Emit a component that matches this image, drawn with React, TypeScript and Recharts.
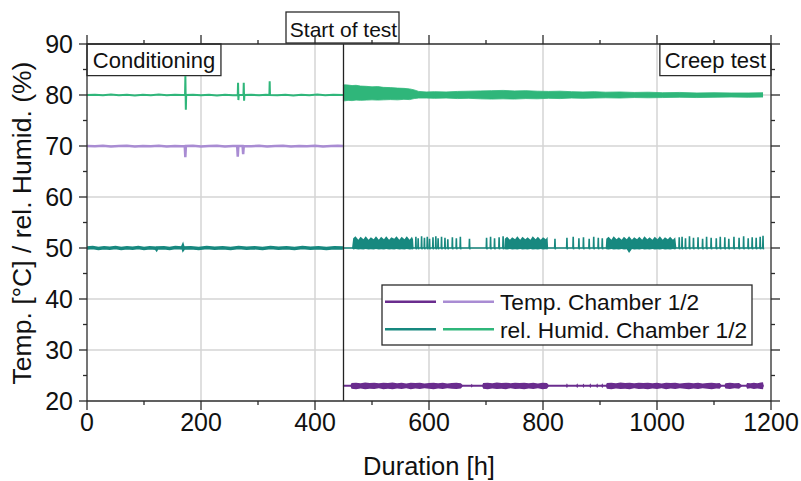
import React from 'react';
import {
  ComposedChart,
  Line,
  Area,
  XAxis,
  YAxis,
  CartesianGrid,
  ReferenceLine,
  ReferenceArea,
  Legend,
  Label,
} from 'recharts';

const FONT = '"Liberation Sans", Arial, Helvetica, sans-serif';
const AXIS = '#2b2b2b';

const TEMP1 = '#6a2c8e';
const TEMP2 = '#a98cd3';
const RH1 = '#17887f';
const RH2 = '#2fb67a';

const xTicks = [0, 100, 200, 300, 400, 500, 600, 700, 800, 900, 1000, 1100, 1200];
const yTicks = [20, 25, 30, 35, 40, 45, 50, 55, 60, 65, 70, 75, 80, 85, 90];
const xGrid = [200, 400, 600, 800, 1000];
const yGrid = [30, 40, 50, 60, 70, 80];

const legendNames = ['Temp. Chamber 1/2', 'rel. Humid. Chamber 1/2'];
const legendColors = [
  [TEMP1, TEMP2],
  [RH1, RH2],
];

// [hours, value]
const temp2Cond: [number, number][] = [
  [0, 70], [14, 69.95], [28, 70.05], [42, 69.9], [56, 70], [70, 70.05], [84, 69.9], [98, 70],
  [112, 69.95], [126, 70.05], [140, 69.9], [154, 70], [166, 69.95], [171.5, 70], [172.5, 67.8],
  [173.5, 70], [186, 70.05], [200, 69.9], [214, 70], [228, 70.05], [242, 69.9], [256, 70],
  [263.5, 70], [264.5, 67.9], [265.5, 70], [273, 70], [274, 68.4], [275, 70], [288, 69.95],
  [302, 70.05], [316, 69.9], [330, 70], [344, 70.05], [358, 69.9], [372, 70], [386, 69.95],
  [400, 70.05], [414, 69.9], [428, 70], [440, 70.05], [449, 70],
];

const rh2Line: [number, number][] = [
  [0, 80], [14, 80.05], [28, 79.95], [42, 80.1], [56, 79.95], [70, 80.05], [84, 79.9], [98, 80.05],
  [112, 79.95], [126, 80.1], [140, 79.95], [154, 80.05], [166, 80], [172, 80], [172.6, 83.7],
  [173.4, 77.1], [174, 80], [186, 80.05], [200, 79.95], [214, 80.05], [228, 79.9], [242, 80.05],
  [256, 79.95], [264.5, 80], [265, 82.4], [265.6, 79], [266.2, 80], [274.5, 80], [275, 82.4],
  [275.6, 78.9], [276.2, 80], [288, 80.05], [302, 79.95], [314, 80.05], [320, 80], [320.5, 82.7],
  [321, 80], [334, 79.95], [348, 80.05], [362, 79.9], [376, 80.05], [390, 79.95], [404, 80.1],
  [418, 79.95], [432, 80.05], [449, 80], [1186, 80],
];

// [hours, low, high]
const rh2Band: [number, number, number][] = [
  [449, 78.9, 81.9], [452, 78.85, 82.0], [458, 78.95, 81.95], [465, 78.9, 81.85], [472, 79.0, 81.9],
  [480, 78.95, 81.75], [490, 79.0, 81.7], [500, 79.05, 81.6], [510, 79.0, 81.65], [520, 79.05, 81.5],
  [532, 79.1, 81.45], [545, 79.05, 81.35], [556, 79.15, 81.3], [566, 79.1, 81.2], [574, 79.3, 81.0],
  [582, 79.4, 80.7], [595, 79.4, 80.6], [610, 79.35, 80.65], [630, 79.4, 80.6], [650, 79.3, 80.7],
  [670, 79.35, 80.75], [690, 79.25, 80.8], [710, 79.2, 80.85], [730, 79.25, 80.9], [750, 79.2, 80.8],
  [770, 79.3, 80.85], [790, 79.25, 80.75], [810, 79.35, 80.7], [830, 79.3, 80.75], [850, 79.4, 80.65],
  [870, 79.35, 80.6], [890, 79.4, 80.65], [910, 79.45, 80.55], [935, 79.4, 80.6], [960, 79.5, 80.5],
  [985, 79.45, 80.55], [1010, 79.5, 80.45], [1040, 79.55, 80.5], [1070, 79.5, 80.4],
  [1100, 79.55, 80.45], [1130, 79.6, 80.4], [1160, 79.55, 80.4], [1186, 79.6, 80.45],
];

const rh1Cond: [number, number][] = [
  [0, 50], [10, 50.1], [20, 49.9], [30, 50.05], [40, 49.95], [50, 50.1], [60, 49.9], [70, 50.05],
  [80, 49.95], [90, 50.1], [100, 49.9], [110, 50.05], [121, 49.95], [122, 49.8], [123, 50],
  [135, 50.05], [145, 49.9], [155, 50.1], [167, 50], [168, 50.25], [169, 49.85], [170, 50],
  [182, 50.05], [196, 49.9], [210, 50.1], [224, 49.95], [238, 50.05], [252, 49.9], [266, 50.1],
  [280, 49.95], [294, 50.05], [308, 49.9], [322, 50.1], [336, 49.95], [350, 50.05], [364, 49.9],
  [378, 50.1], [392, 49.95], [406, 50.05], [420, 49.9], [434, 50.05], [449, 50],
];

// creep phase spikes of chamber 1 humidity: [hours, peak]
const rh1Spikes: [number, number][] = [
  [577, 52.2], [581, 51.9], [587, 52.3], [592, 52.0], [597, 52.2], [601, 51.8], [607, 52.1],
  [612, 52.3], [616, 51.9], [622, 52.2], [628, 52.0], [633, 51.7], [641, 52.1], [648, 51.9],
  [655, 52.2], [671, 51.8], [701, 52.0], [708, 52.2], [715, 51.9], [723, 52.1], [730, 52.3],
  [821, 51.8], [842, 52.0], [853, 52.2], [863, 51.9], [871, 52.1], [881, 51.8], [889, 52.2],
  [897, 52.0], [904, 51.9], [1039, 52.1], [1044, 52.2], [1050, 51.9], [1057, 52.3], [1064, 52.0],
  [1072, 52.1], [1080, 51.8], [1087, 52.2], [1095, 52.0], [1104, 51.9], [1111, 52.2], [1119, 52.1],
  [1126, 51.8], [1135, 52.2], [1144, 52.0], [1152, 52.3], [1160, 51.9], [1167, 52.1], [1174, 52.0],
  [1181, 52.2], [1186, 52.4],
];

// dense fluctuation blocks of chamber 1 humidity: [hours, low, high]
const rh1Blocks: [number, number, number][] = [
  [449, 50, 50], [465, 50, 50], [467, 49.7, 51.9], [471, 49.8, 52.3], [476, 49.7, 51.6],
  [480, 49.75, 52.2], [485, 49.7, 51.7], [489, 49.8, 52.3], [494, 49.7, 51.6], [498, 49.75, 52.1],
  [503, 49.7, 51.7], [507, 49.8, 52.3], [512, 49.7, 51.6], [516, 49.75, 52.2], [521, 49.7, 51.7],
  [525, 49.8, 52.3], [530, 49.7, 51.6], [534, 49.75, 52.1], [539, 49.7, 51.8], [543, 49.8, 52.3],
  [548, 49.7, 51.6], [552, 49.75, 52.2], [557, 49.7, 51.7], [561, 49.8, 52.3], [566, 49.7, 51.6],
  [570, 49.75, 52.2], [572, 49.7, 51.7], [573, 50, 50], [732, 50, 50], [733, 49.75, 51.8],
  [737, 49.7, 52.2], [742, 49.8, 51.6], [746, 49.7, 52.1], [751, 49.75, 51.7], [755, 49.7, 52.3],
  [760, 49.8, 51.6], [764, 49.7, 52.2], [769, 49.75, 51.7], [773, 49.7, 52.1], [778, 49.8, 51.6],
  [782, 49.7, 52.3], [787, 49.75, 51.7], [791, 49.7, 52.2], [796, 49.8, 51.6], [800, 49.7, 52.1],
  [805, 49.75, 51.7], [808, 49.7, 52.2], [809, 50, 50], [910, 50, 50], [911, 49.75, 51.8],
  [915, 49.7, 52.2], [920, 49.8, 51.6], [924, 49.7, 52.3], [929, 49.75, 51.7], [933, 49.7, 52.1],
  [938, 49.8, 51.6], [942, 49.7, 52.2], [947, 49.75, 51.7], [951, 49.0, 52.3], [956, 49.8, 51.6],
  [960, 49.7, 52.1], [965, 49.75, 51.7], [969, 49.7, 52.2], [974, 49.8, 51.6], [978, 49.7, 52.3],
  [983, 49.75, 51.7], [987, 49.7, 52.1], [992, 49.8, 51.6], [996, 49.7, 52.2], [1001, 49.75, 51.7],
  [1005, 49.7, 52.3], [1010, 49.8, 51.6], [1014, 49.7, 52.1], [1019, 49.75, 51.7], [1023, 49.7, 52.2],
  [1028, 49.8, 51.6], [1032, 49.7, 52.1], [1034, 50, 50],
];

const temp1Line: [number, number][] = [[449, 23], [1187, 23]];

const temp1Band: [number, number, number][] = [
  [449, 23, 23], [462, 23, 23], [464, 22.4, 23.55], [472, 22.3, 23.6], [480, 22.45, 23.5],
  [488, 22.3, 23.65], [496, 22.4, 23.55], [504, 22.35, 23.6], [512, 22.5, 23.5], [520, 22.3, 23.6],
  [528, 22.4, 23.55], [536, 22.3, 23.65], [544, 22.45, 23.5], [552, 22.35, 23.6], [560, 22.5, 23.45],
  [568, 22.3, 23.6], [576, 22.45, 23.55], [584, 22.35, 23.6], [592, 22.5, 23.45], [600, 22.4, 23.55],
  [608, 22.3, 23.6], [616, 22.45, 23.5], [624, 22.35, 23.6], [632, 22.5, 23.45], [640, 22.4, 23.55],
  [648, 22.35, 23.6], [656, 22.45, 23.5], [660, 23, 23], [673, 23, 23], [675, 22.6, 23.4],
  [677, 23, 23], [693, 23, 23], [695, 22.4, 23.55], [703, 22.3, 23.6], [711, 22.45, 23.5],
  [719, 22.35, 23.65], [727, 22.4, 23.55], [735, 22.3, 23.6], [743, 22.5, 23.5], [751, 22.35, 23.6],
  [759, 22.4, 23.55], [767, 22.3, 23.6], [775, 22.45, 23.5], [783, 22.35, 23.6], [791, 22.5, 23.45],
  [799, 22.3, 23.6], [807, 22.4, 23.55], [811, 23, 23], [840, 23, 23], [842, 22.5, 23.5],
  [844, 23, 23], [858, 23, 23], [860, 22.5, 23.5], [862, 23, 23], [869, 23, 23], [871, 22.55, 23.45],
  [873, 23, 23], [881, 23, 23], [883, 22.5, 23.5], [885, 23, 23], [893, 23, 23], [895, 22.5, 23.5],
  [897, 23, 23], [902, 23, 23], [904, 22.5, 23.5], [906, 23, 23], [910, 23, 23], [912, 22.4, 23.55],
  [920, 22.3, 23.6], [928, 22.45, 23.5], [936, 22.35, 23.65], [944, 22.4, 23.55], [952, 22.3, 23.6],
  [960, 22.5, 23.5], [968, 22.35, 23.6], [976, 22.4, 23.55], [984, 22.3, 23.6], [992, 22.45, 23.5],
  [1000, 22.35, 23.6], [1008, 22.5, 23.45], [1016, 22.3, 23.6], [1024, 22.45, 23.55],
  [1032, 22.35, 23.6], [1040, 22.5, 23.45], [1048, 22.4, 23.55], [1056, 22.3, 23.6],
  [1064, 22.45, 23.5], [1072, 22.35, 23.6], [1080, 22.5, 23.45], [1088, 22.4, 23.55],
  [1096, 22.3, 23.6], [1104, 22.45, 23.5], [1110, 22.4, 23.55], [1114, 23, 23], [1118, 23, 23],
  [1120, 22.45, 23.5], [1128, 22.35, 23.6], [1136, 22.5, 23.5], [1144, 22.4, 23.55], [1150, 23, 23],
  [1156, 23, 23], [1158, 22.4, 23.55], [1164, 22.5, 23.5], [1170, 22.35, 23.6], [1176, 22.45, 23.5],
  [1182, 22.35, 23.65], [1186, 22.3, 23.7], [1187, 23, 23],
];

const toPoints = (rows: [number, number][]) => rows.map(([h, v]) => ({ h, v }));
const toBand = (rows: [number, number, number][]) => rows.map(([h, lo, hi]) => ({ h, band: [lo, hi] }));

// baseline at 50 with the spikes expanded into up/down strokes
const rh1CreepData = [
  { h: 449, v: 50 },
  ...rh1Spikes.flatMap(([h, peak]) => [
    { h: h - 0.5, v: 50 },
    { h, v: peak },
    { h: h + 0.5, v: 49.75 },
    { h: h + 1, v: 50 },
  ]),
  { h: 1187, v: 50 },
];

function BottomTick(props: any) {
  const { x, y, payload } = props;
  const major = payload.value % 200 === 0;
  return (
    <g>
      <line x1={x} y1={y} x2={x} y2={y + (major ? 9 : 4)} stroke={AXIS} strokeWidth={1.3} />
      {major && (
        <text x={x} y={y + 30} textAnchor="middle" fontSize={25} fontFamily={FONT} fill="#111">
          {payload.value}
        </text>
      )}
    </g>
  );
}

function TopTick(props: any) {
  const { x, y, payload } = props;
  const major = payload.value % 200 === 0;
  return <line x1={x} y1={y} x2={x} y2={y - (major ? 9 : 4)} stroke={AXIS} strokeWidth={1.3} />;
}

function LeftTick(props: any) {
  const { x, y, payload } = props;
  const major = payload.value % 10 === 0;
  return (
    <g>
      <line x1={x} y1={y} x2={x - (major ? 8 : 4)} y2={y} stroke={AXIS} strokeWidth={1.3} />
      {major && (
        <text x={x - 14} y={y + 9} textAnchor="end" fontSize={25} fontFamily={FONT} fill="#111">
          {payload.value}
        </text>
      )}
    </g>
  );
}

function RightTick(props: any) {
  const { x, y, payload } = props;
  const major = payload.value % 10 === 0;
  return <line x1={x} y1={y} x2={x + (major ? 9 : 4)} y2={y} stroke={AXIS} strokeWidth={1.3} />;
}

function StartLabel(props: any) {
  const { viewBox } = props;
  const cx = viewBox.x;
  const top = viewBox.y;
  return (
    <g>
      <rect x={cx - 57.5} y={top - 32} width={113} height={31} fill="#fff" stroke={AXIS} strokeWidth={1.3} />
      <text x={cx} y={top - 7.5} textAnchor="middle" fontSize={21} fontFamily={FONT} fill="#111">
        Start of test
      </text>
    </g>
  );
}

function YTitle() {
  return (
    <text
      x={31}
      y={223}
      transform="rotate(-90 31 223)"
      textAnchor="middle"
      fontSize={26.5}
      fontFamily={FONT}
      fill="#111"
    >
      Temp. [°C] / rel. Humid. (%)
    </text>
  );
}

function XTitle() {
  return (
    <text x={429} y={475} textAnchor="middle" fontSize={25.5} fontFamily={FONT} fill="#111">
      Duration [h]
    </text>
  );
}

function LegendBox() {
  return (
    <svg width={372} height={62} style={{ display: 'block' }}>
      <rect x={1} y={1} width={370} height={60} fill="#fff" stroke={AXIS} strokeWidth={1.3} />
      {legendNames.map((name, i) => {
        const cy = 17.7 + i * 27.6;
        return (
          <g key={name}>
            <line x1={4} x2={55} y1={cy} y2={cy} stroke={legendColors[i][0]} strokeWidth={2.5} />
            <line x1={62} x2={113} y1={cy} y2={cy} stroke={legendColors[i][1]} strokeWidth={2.5} />
            <text x={119} y={cy + 8.2} fontSize={22.7} fontFamily={FONT} fill="#111">
              {name}
            </text>
          </g>
        );
      })}
    </svg>
  );
}

export default function App() {
  return (
    <div style={{ position: 'absolute', left: 0, top: 0, width: 801, height: 481, background: '#fff' }}>
      <ComposedChart width={801} height={481} margin={{ top: 0, right: 0, bottom: 0, left: 0 }}>
        <CartesianGrid
          stroke="#d4d4d4"
          strokeWidth={1.5}
          verticalValues={xGrid}
          horizontalValues={yGrid}
        />
        <XAxis
          dataKey="h"
          type="number"
          domain={[0, 1200]}
          ticks={xTicks}
          interval={0}
          height={80}
          tickSize={0}
          tickMargin={0}
          tickLine={false}
          tick={<BottomTick />}
          axisLine={{ stroke: AXIS, strokeWidth: 1.3 }}
          allowDataOverflow
        >
          <Label content={<XTitle />} />
        </XAxis>
        <XAxis
          xAxisId="top"
          orientation="top"
          dataKey="h"
          type="number"
          domain={[0, 1200]}
          ticks={xTicks}
          interval={0}
          height={44}
          tickSize={0}
          tickMargin={0}
          tickLine={false}
          tick={<TopTick />}
          axisLine={{ stroke: AXIS, strokeWidth: 1.3 }}
          allowDataOverflow
        />
        <YAxis
          type="number"
          domain={[20, 90]}
          ticks={yTicks}
          interval={0}
          width={87}
          tickSize={0}
          tickMargin={0}
          tickLine={false}
          tick={<LeftTick />}
          axisLine={{ stroke: AXIS, strokeWidth: 1.3 }}
          allowDataOverflow
        >
          <Label content={<YTitle />} />
        </YAxis>
        <YAxis
          yAxisId="right"
          orientation="right"
          type="number"
          domain={[20, 90]}
          ticks={yTicks}
          interval={0}
          width={30}
          tickSize={0}
          tickMargin={0}
          tickLine={false}
          tick={<RightTick />}
          axisLine={{ stroke: AXIS, strokeWidth: 1.3 }}
          allowDataOverflow
        />

        <ReferenceArea
          x1={0}
          x2={235}
          y1={83.8}
          y2={90}
          fill="#fff"
          fillOpacity={1}
          stroke={AXIS}
          strokeWidth={1.3}
          label={{ value: 'Conditioning', position: 'center', fontSize: 22, fontFamily: FONT, fill: '#111' }}
        />
        <ReferenceArea
          x1={1005}
          x2={1200}
          y1={83.8}
          y2={90}
          fill="#fff"
          fillOpacity={1}
          stroke={AXIS}
          strokeWidth={1.3}
          label={{ value: 'Creep test', position: 'center', fontSize: 22, fontFamily: FONT, fill: '#111' }}
        />

        <Line data={toPoints(temp2Cond)} dataKey="v" stroke={TEMP2} strokeWidth={2.5} dot={false} activeDot={false} isAnimationActive={false} />
        <Line data={toPoints(rh2Line)} dataKey="v" stroke={RH2} strokeWidth={2} dot={false} activeDot={false} isAnimationActive={false} />
        <Area data={toBand(rh2Band)} dataKey="band" stroke={RH2} strokeWidth={0.8} fill={RH2} fillOpacity={1} dot={false} activeDot={false} isAnimationActive={false} />
        <Line data={toPoints(rh1Cond)} dataKey="v" stroke={RH1} strokeWidth={3.5} dot={false} activeDot={false} isAnimationActive={false} />
        <Line data={rh1CreepData} dataKey="v" stroke={RH1} strokeWidth={1.6} dot={false} activeDot={false} isAnimationActive={false} />
        <Area data={toBand(rh1Blocks)} dataKey="band" stroke="none" fill={RH1} fillOpacity={1} dot={false} activeDot={false} isAnimationActive={false} />
        <Line data={toPoints(temp1Line)} dataKey="v" stroke={TEMP1} strokeWidth={2} dot={false} activeDot={false} isAnimationActive={false} />
        <Area data={toBand(temp1Band)} dataKey="band" stroke="none" fill={TEMP1} fillOpacity={1} dot={false} activeDot={false} isAnimationActive={false} />

        <ReferenceLine x={450} stroke="#222" strokeWidth={1.3} label={<StartLabel />} />

        <Legend
          layout="vertical"
          align="center"
          verticalAlign="middle"
          content={() => <LegendBox />}
          wrapperStyle={{ left: 381, top: 284, width: 372, height: 62 }}
        />
      </ComposedChart>
    </div>
  );
}
